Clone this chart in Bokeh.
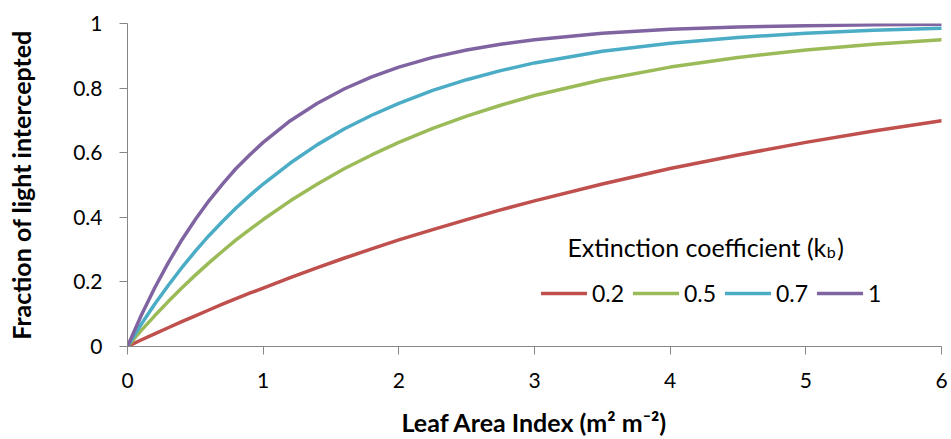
from bokeh.plotting import figure
from bokeh.models import Legend, LegendItem, Label, Range1d, FixedTicker
from bokeh.embed import file_html
from bokeh.resources import INLINE

lai = [0, 0.1, 0.2, 0.3, 0.4, 0.5, 0.6, 0.7, 0.8, 0.9, 1.0, 1.2, 1.4, 1.6, 1.8, 2.0,
       2.25, 2.5, 2.75, 3, 3.5, 4, 4.5, 5, 5.5, 6]
k02 = [0, .020, .039, .058, .077, .095, .113, .131, .148, .165, .181, .213, .244, .274, .302, .330,
       .362, .393, .423, .451, .503, .551, .593, .632, .667, .699]
k05 = [0, .049, .095, .139, .181, .221, .259, .295, .330, .362, .393, .451, .503, .551, .593, .632,
       .675, .713, .747, .777, .826, .865, .895, .918, .936, .950]
k07 = [0, .068, .131, .189, .244, .295, .343, .387, .429, .467, .503, .568, .625, .674, .716, .753,
       .793, .826, .854, .878, .914, .939, .957, .970, .979, .985]
k10 = [0, .095, .181, .259, .330, .393, .451, .503, .551, .593, .632, .699, .753, .798, .835, .865,
       .895, .918, .936, .950, .970, .982, .989, .993, .996, .998]
series_names = ["0.2", "0.5", "0.7", "1"]
colors = ["#C0504D", "#9BBB59", "#4BACC6", "#8064A2"]
x_ticks = [0, 1, 2, 3, 4, 5, 6]
y_ticks = [0, 0.2, 0.4, 0.6, 0.8, 1]

FONT = "Lato"

p = figure(width=951, height=439, output_backend="svg", toolbar_location=None,
           x_range=Range1d(0, 6), y_range=Range1d(0, 1),
           min_border_left=127, min_border_right=10, min_border_top=23, min_border_bottom=91)
p.outline_line_color = None
p.xgrid.visible = False
p.ygrid.visible = False
p.background_fill_color = "white"
p.border_fill_color = "white"

items = []
for name, ys, c in zip(series_names, [k02, k05, k07, k10], colors):
    r = p.line(lai, ys, line_color=c, line_width=3.5, line_join="round", line_cap="round")
    items.append(LegendItem(label=name, renderers=[r]))

for ax in (p.xaxis[0], p.yaxis[0]):
    ax.axis_line_color = "#868686"
    ax.major_tick_line_color = "#868686"
    ax.minor_tick_line_color = None
    ax.major_tick_in = 0
    ax.major_tick_out = 8
    ax.major_label_text_font = FONT
    ax.major_label_text_font_size = "21px"
    ax.major_label_text_color = "#000000"
    ax.axis_label_text_font = FONT
    ax.axis_label_text_font_size = "25px"
    ax.axis_label_text_font_style = "bold"
    ax.axis_label_text_color = "#000000"

p.xaxis[0].ticker = FixedTicker(ticks=x_ticks)
p.yaxis[0].ticker = FixedTicker(ticks=y_ticks)
p.yaxis[0].major_label_overrides = {0: "0", 1: "1"}
p.xaxis[0].axis_label = "Leaf Area Index (m\u00b2 m\u207b\u00b2)"
p.yaxis[0].axis_label = "Fraction of light intercepted"
p.xaxis[0].major_label_standoff = 18
p.yaxis[0].major_label_standoff = 17
p.xaxis[0].axis_label_standoff = 16
p.yaxis[0].axis_label_standoff = 34

legend = Legend(items=items, orientation="horizontal", location=(414, 39),
                glyph_width=46, glyph_height=20, label_standoff=5, spacing=7, label_width=34,
                padding=0, margin=0, border_line_color=None, background_fill_alpha=0,
                label_text_font=FONT, label_text_font_size="23px", label_text_color="#000000")
p.add_layout(legend, "center")

p.add_layout(Label(x=5.151, y=0.308, text="Extinction coefficient (k", text_font=FONT,
                   text_font_size="25px", text_align="right", text_baseline="alphabetic",
                   text_color="#000000"))
p.add_layout(Label(x=5.155, y=0.293, text="b", text_font=FONT,
                   text_font_size="16px", text_baseline="alphabetic", text_color="#000000"))
p.add_layout(Label(x=5.232, y=0.308, text=")", text_font=FONT,
                   text_font_size="25px", text_baseline="alphabetic", text_color="#000000"))

open("out.html", "w").write(file_html(p, INLINE))
